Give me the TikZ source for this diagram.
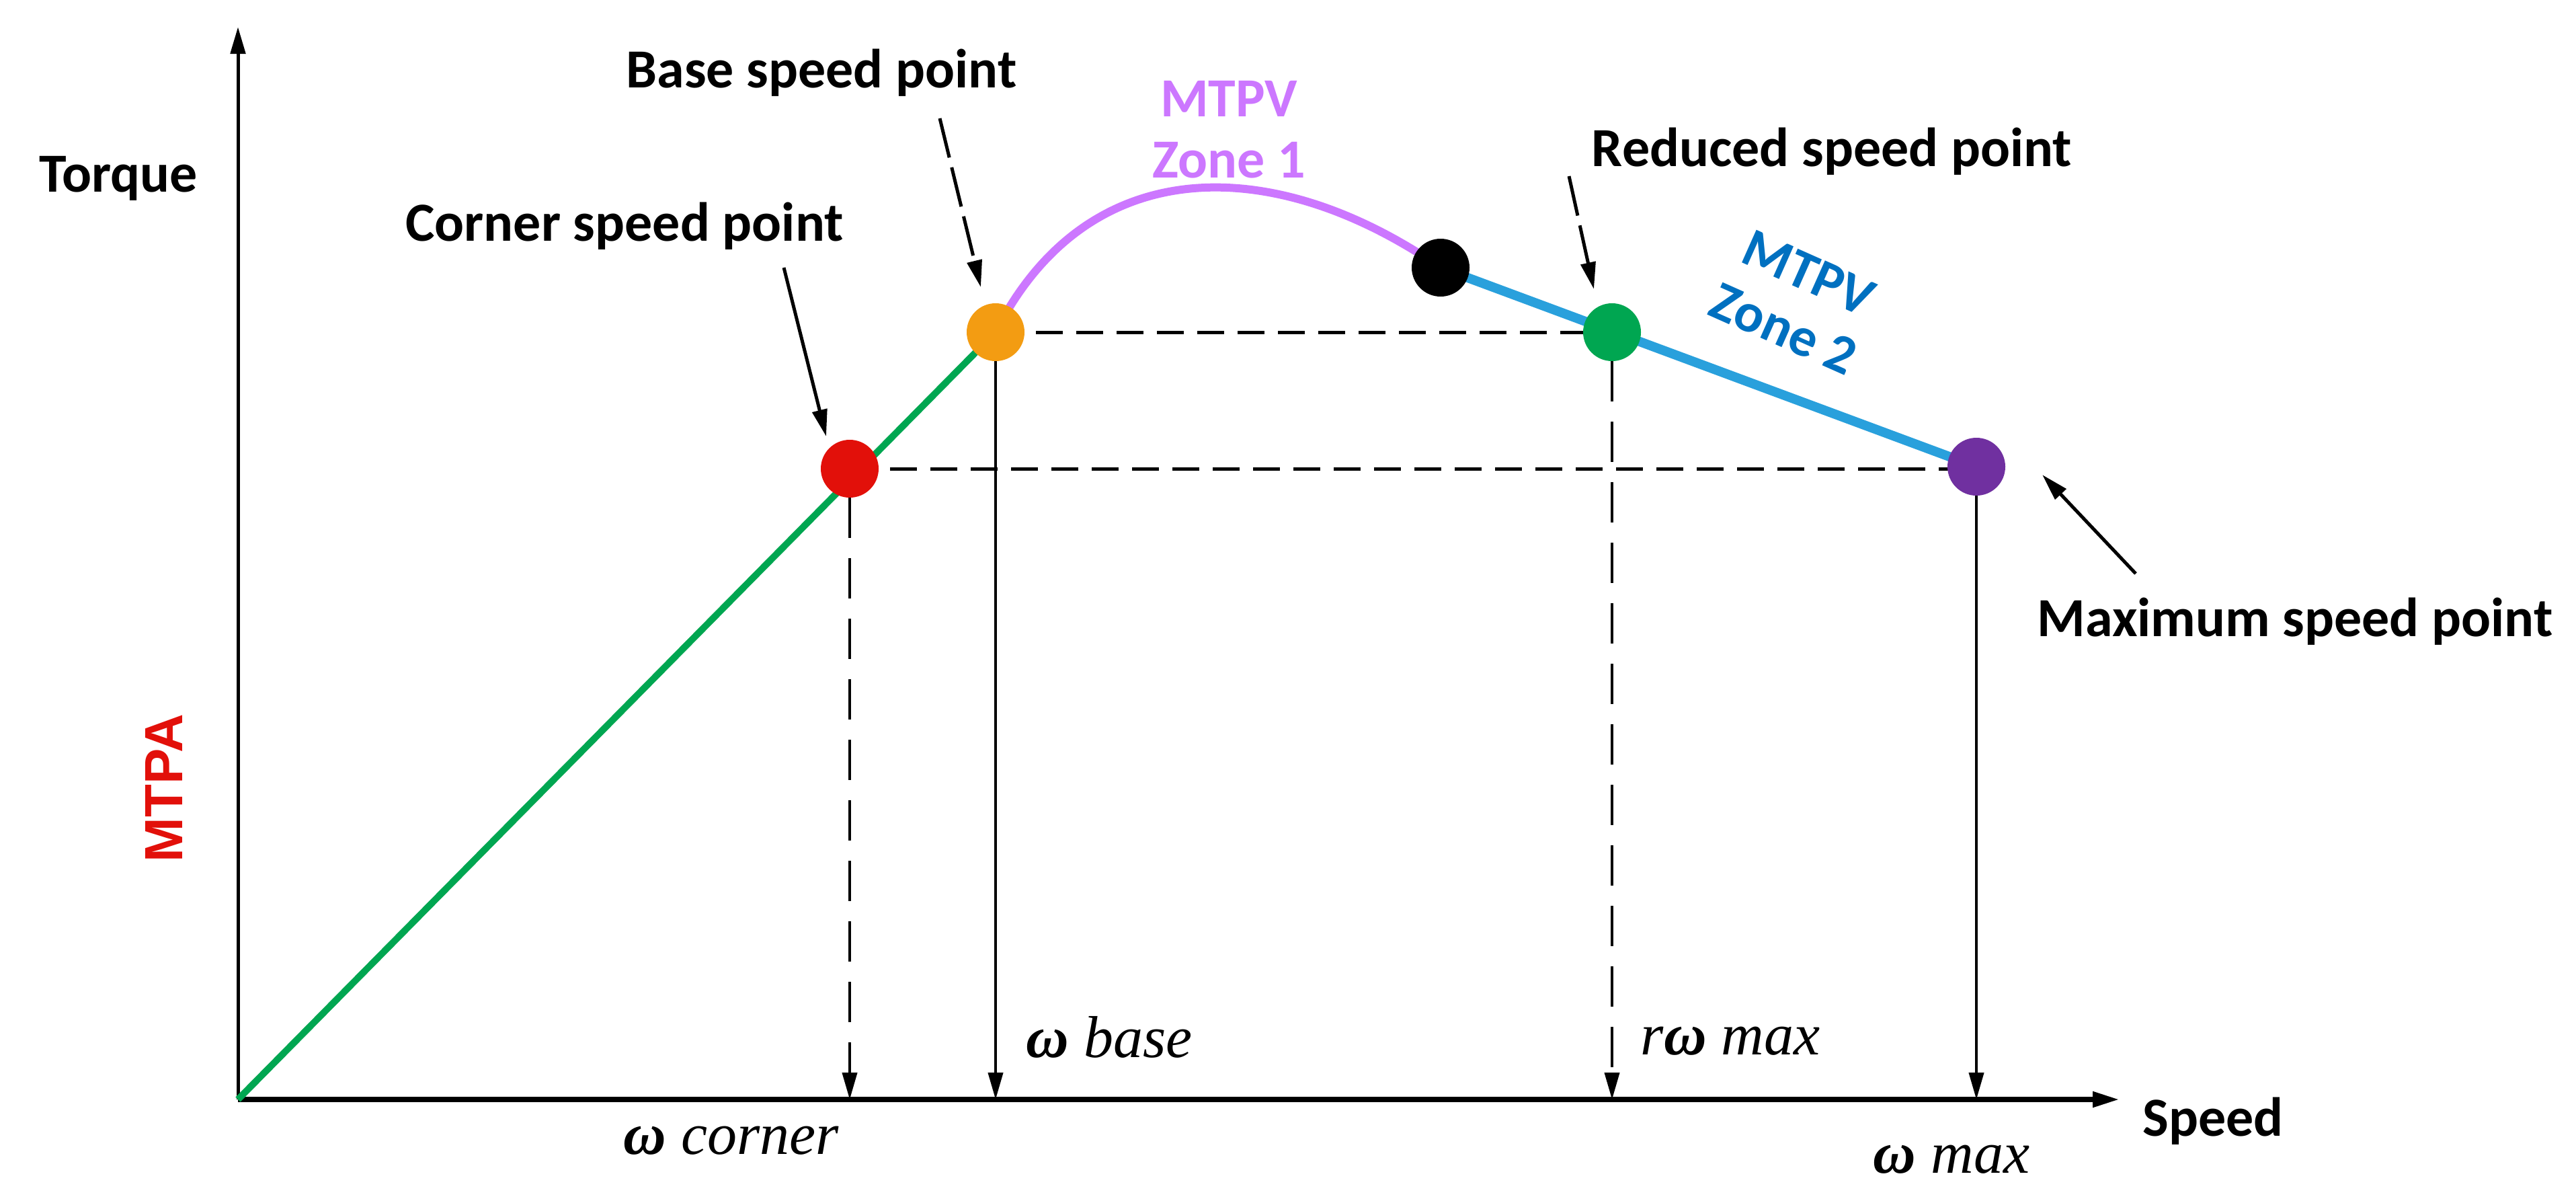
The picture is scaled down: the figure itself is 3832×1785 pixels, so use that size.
\documentclass[tikz,border=0pt]{standalone}
\usepackage{fontspec}
\setmainfont{Carlito}
\newfontfamily\ser{Liberation Serif}
\newfontfamily\sans{Liberation Sans}
\usetikzlibrary{arrows.meta}
\definecolor{cgreen}{RGB}{0,166,81}
\definecolor{cblue}{RGB}{41,160,220}
\definecolor{cpink}{RGB}{204,119,255}
\definecolor{cred}{RGB}{226,16,10}
\definecolor{corange}{RGB}{243,156,18}
\definecolor{cpurple}{RGB}{112,48,160}
\definecolor{ctxtblue}{RGB}{0,112,192}
\begin{document}
\begin{tikzpicture}[x=1pt,y=-1pt,
 lbl/.style={font=\fontsize{82}{91}\selectfont\bfseries},
 om/.style={font=\ser\itshape\fontsize{88}{96}\selectfont},
 dot/.style={circle,minimum size=86pt,inner sep=0pt},
 dsh/.style={line width=5pt,dash pattern=on 40pt off 20pt},
 vdsh/.style={line width=4pt,dash pattern=on 60pt off 30pt},
 tip/.style={-{Triangle[length=40pt,width=22pt]}},
 ptr/.style={line width=5pt,-{Triangle[length=40pt,width=22pt]}}]
\useasboundingbox (0,0) rectangle (3832,1785);
\coordinate (O) at (354,1635);
\coordinate (X) at (3153,1635);
\coordinate (Y) at (354,40);
\draw[line width=8pt,tip] (O) -- (X);
\draw[line width=5pt,tip] (O) -- (Y);
\coordinate (rx) at (1264,1635);
\coordinate (ox) at (1481,1635);
\coordinate (gx) at (2398,1635);
\coordinate (px) at (2940,1635);
% curves
\draw[cgreen,line width=10pt] (O) -- (1481,494);
\draw[cpink,line width=12pt] (1481,494) .. controls (1620,220) and (1900,230) .. (2143,398);
\draw[cblue,line width=14pt] (2143,398) -- (2940,694);
% dashed
\draw[dsh] (1481,494) -- (2398,494);
\draw[dsh] (1264,697) -- (2940,697);
% dots
\node[dot,fill=cred] (r) at (1264,697) {};
\node[dot,fill=corange] (o) at (1481,494) {};
\node[dot,fill=black] (b) at (2143,398) {};
\node[dot,fill=cgreen] (g) at (2398,494) {};
\node[dot,fill=cpurple] (p) at (2940,694) {};
% verticals
\draw[vdsh,tip] (r) -- (rx);
\draw[line width=4pt,tip] (o) -- (ox);
\draw[vdsh,tip] (g) -- (gx);
\draw[line width=4pt,tip] (p) -- (px);
% labels
\node[lbl] (torque) at (176,265) {Torque};
\node[lbl] (speed) at (3292,1667) {Speed};
\node[lbl] (corner) at (929,336) {Corner speed point};
\node[lbl] (base) at (1222,108) {Base speed point};
\node[lbl] (red) at (2725,225) {Reduced speed point};
\node[lbl] (maxl) at (3414,924) {Maximum speed point};
\node[lbl,text=cpink,align=center] (z1) at (1828,193) {MTPV\\Zone 1};
\node[lbl,text=ctxtblue,align=center,rotate=-24] (z2) at (2672,448) {MTPV\\Zone 2};
\node[text=cred,rotate=90,font=\sans\fontsize{80}{84}\selectfont\bfseries] (mtpa) at (244,1172) {MTPA};
\node[om] (wc) at (1088,1696) {{\bfseries ω} corner};
\node[om] (wb) at (1650,1542) {{\bfseries ω} base};
\node[om] (wr) at (2574,1548) {r{\bfseries ω} max};
\node[om] (wm) at (2903,1724) {{\bfseries ω} max};
% pointers
\coordinate (c1) at (1166,398); \coordinate (c2) at (1229,649);
\coordinate (b1) at (1398,176); \coordinate (b2) at (1459,427);
\coordinate (d1) at (2334,262); \coordinate (d2) at (2371,430);
\coordinate (m1) at (3177,853); \coordinate (m2) at (3038,706);
\draw[ptr] (c1) -- (c2);
\draw[ptr,dash pattern=on 60pt off 15pt] (b1) -- (b2);
\draw[ptr,dash pattern=on 60pt off 15pt] (d1) -- (d2);
\draw[ptr] (m1) -- (m2);
\end{tikzpicture}
\end{document}
